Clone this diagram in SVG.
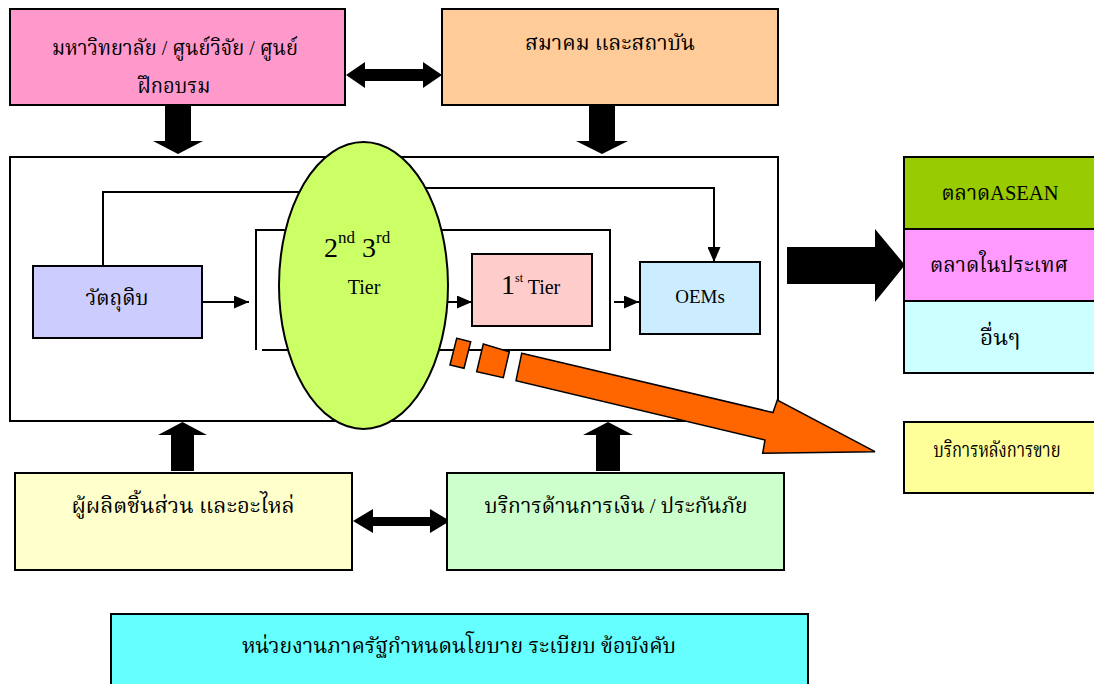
<svg xmlns="http://www.w3.org/2000/svg" width="1094" height="684" viewBox="0 0 1094 684">
<defs>
<style>
.box{stroke:#000;stroke-width:2}
.th{font-family:"Liberation Serif","Noto Serif Thai","Noto Sans Thai",serif;font-size:22px;fill:#000;text-anchor:middle}
.en{font-family:"Liberation Serif",serif;fill:#000}
.ln{fill:none;stroke:#000;stroke-width:2}
.blk{fill:#000}
.org{fill:#FF6600;stroke:#000;stroke-width:1.5;stroke-linejoin:miter}
</style>
<marker id="ah" markerUnits="userSpaceOnUse" markerWidth="15" markerHeight="13" refX="15" refY="6.5" orient="auto">
<path d="M0,0 L15,6.5 L0,13 z" fill="#000"/>
</marker>
</defs>
<rect width="1094" height="684" fill="#fff"/>

<g id="main-frame">
<rect x="10" y="157" width="768" height="264" fill="#fff" class="box"/>
</g>

<g id="connectors">
<path class="ln" d="M103,266 V192 H360 V188 H714 V262" marker-end="url(#ah)"/>
<path class="ln" d="M202,302 H249" marker-end="url(#ah)"/>
<path class="ln" d="M448,302 H472" marker-end="url(#ah)"/>
<path class="ln" d="M614,302 H639" marker-end="url(#ah)"/>
<path class="ln" d="M256,350 V230 H610 V350 H262"/>
<polygon class="blk" points="346,75 365,62 365,69 423,69 423,62 442,75 423,88 423,81 365,81 365,88"/>
<polygon class="blk" points="165,105 191,105 191,141 203,141 178,154 153,141 165,141"/>
<polygon class="blk" points="589,105 615,105 615,141 628,141 602,154 576,141 589,141"/>
<polygon class="blk" points="787,247 875,247 875,229 905,265 875,302 875,284 787,284"/>
<polygon class="blk" points="171,471 171,435 158,435 182.5,422 207,435 194,435 194,471"/>
<polygon class="blk" points="596,471 596,435 583,435 608,422 633,435 620,435 620,471"/>
<polygon class="blk" points="353,521 373,509 373,517 430,517 430,509 450,521 430,533 430,526 373,526 373,533"/>
</g>

<g id="university">
<rect x="10" y="9" width="335" height="96" fill="#FF99CC" class="box"/>
<text class="th" x="175" y="55" textLength="246" lengthAdjust="spacingAndGlyphs">มหาวิทยาลัย / ศูนย์วิจัย / ศูนย์</text>
<text class="th" x="174" y="93" textLength="73" lengthAdjust="spacingAndGlyphs">ฝึกอบรม</text>
</g>

<g id="association">
<rect x="442" y="9" width="336" height="96" fill="#FFCC99" class="box"/>
<text class="th" x="610" y="50" textLength="170" lengthAdjust="spacingAndGlyphs">สมาคม และสถาบัน</text>
</g>

<g id="raw-material">
<rect x="33" y="266" width="169" height="72" fill="#CCCCFF" class="box"/>
<text class="th" x="117" y="305" textLength="63" lengthAdjust="spacingAndGlyphs">วัตถุดิบ</text>
</g>

<g id="tier23">
<ellipse cx="363.5" cy="285.5" rx="84.5" ry="143.5" fill="#CCFF66" stroke="#000" stroke-width="2"/>
<text class="en" x="324" y="257" font-size="28">2<tspan font-size="17" dy="-14">nd</tspan><tspan font-size="28" dy="14"> 3</tspan><tspan font-size="17" dy="-14">rd</tspan></text>
<text class="en" x="364" y="294" font-size="20" text-anchor="middle">Tier</text>
</g>

<g id="tier1">
<rect x="472" y="254" width="120" height="72" fill="#FFCCCC" class="box"/>
<text class="en" x="501" y="294" font-size="28">1<tspan font-size="12" dy="-12">st</tspan><tspan font-size="20" dy="12"> Tier</tspan></text>
</g>

<g id="oems">
<rect x="640" y="262" width="120" height="72" fill="#CCECFF" class="box"/>
<text class="en" x="700" y="303" font-size="19" text-anchor="middle">OEMs</text>
</g>

<g id="market-asean">
<rect x="904" y="157" width="200" height="72" fill="#99CC00" class="box"/>
<text class="th" x="1000" y="200" textLength="117" lengthAdjust="spacingAndGlyphs">ตลาดASEAN</text>
</g>
<g id="market-domestic">
<rect x="904" y="229" width="200" height="72" fill="#FF99FF" class="box"/>
<text class="th" x="999" y="272" textLength="138" lengthAdjust="spacingAndGlyphs">ตลาดในประเทศ</text>
</g>
<g id="market-other">
<rect x="904" y="301" width="200" height="72" fill="#CCFFFF" class="box"/>
<text class="th" x="1000" y="345" textLength="40" lengthAdjust="spacingAndGlyphs">อื่นๆ</text>
</g>
<g id="after-sales">
<rect x="904" y="422" width="200" height="71" fill="#FFFF99" class="box"/>
<text class="th" x="997" y="457" font-size="17" textLength="127" lengthAdjust="spacingAndGlyphs">บริการหลังการขาย</text>
</g>

<g id="orange-arrow">
<polygon class="org" points="456.7,338.3 470.7,341.7 464,368.3 450,365"/>
<polygon class="org" points="483.3,344 509.3,351.7 503.3,377.7 476.7,371.7"/>
<polygon class="org" points="521.7,353.3 773,412.5 777.3,400 875,451.7 762.7,453.3 765,440 516,380.7"/>
</g>

<g id="parts-maker">
<rect x="15" y="473" width="337" height="97" fill="#FFFFCC" class="box"/>
<text class="th" x="183" y="513" textLength="223" lengthAdjust="spacingAndGlyphs">ผู้ผลิตชิ้นส่วน และอะไหล่</text>
</g>

<g id="finance">
<rect x="447" y="473" width="337" height="97" fill="#CCFFCC" class="box"/>
<text class="th" x="616" y="513" textLength="263" lengthAdjust="spacingAndGlyphs">บริการด้านการเงิน / ประกันภัย</text>
</g>

<g id="government">
<rect x="111" y="614" width="697" height="80" fill="#66FFFF" class="box"/>
<text class="th" x="459" y="653" textLength="434" lengthAdjust="spacingAndGlyphs">หน่วยงานภาครัฐกำหนดนโยบาย ระเบียบ ข้อบังคับ</text>
</g>
</svg>
